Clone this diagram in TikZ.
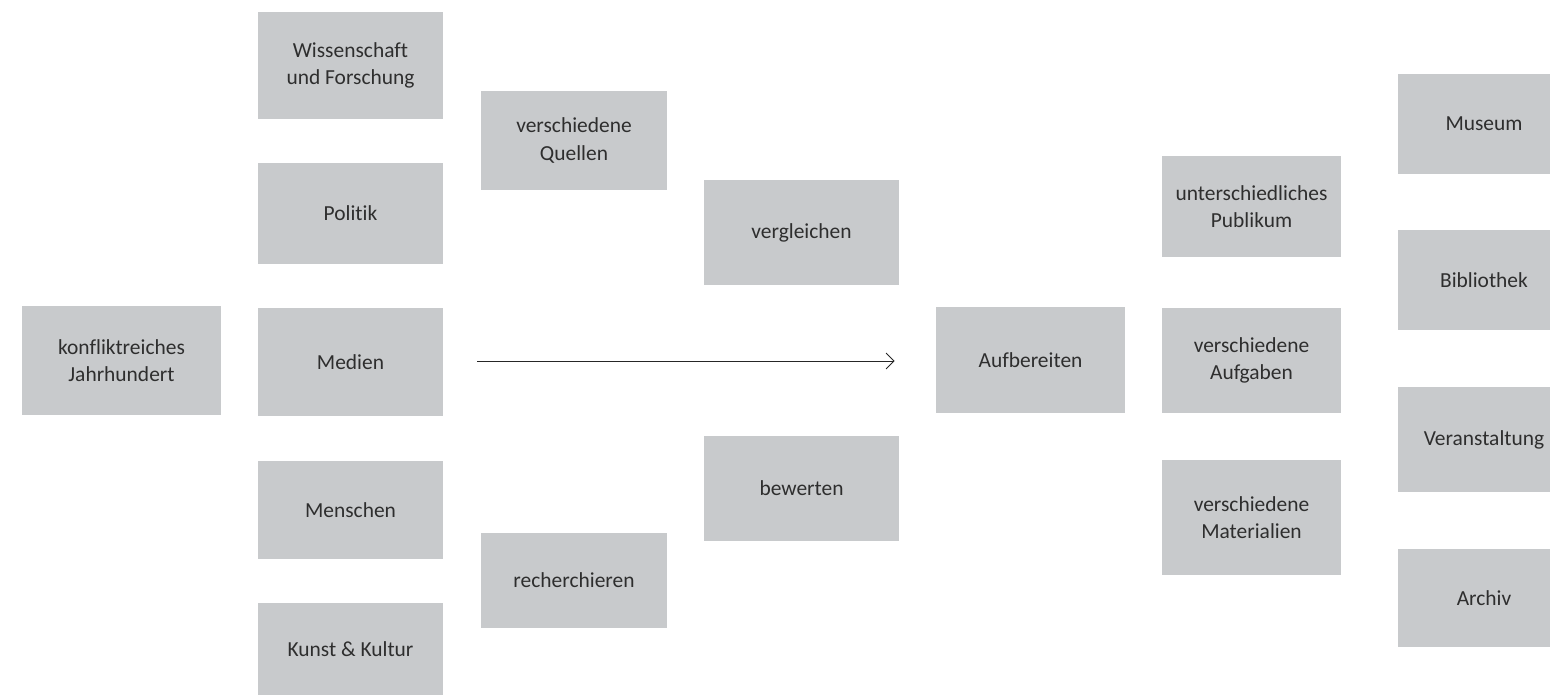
\documentclass[tikz,border=0pt]{standalone}
\usepackage{fontspec}
\setmainfont[Ligatures=NoCommon]{Carlito}
\usepackage{tikz}
\usetikzlibrary{arrows.meta}

\begin{document}
\begin{tikzpicture}[x=0.02cm,y=-0.02cm]
\definecolor{boxGray}{HTML}{C8CACC}
\definecolor{textGray}{HTML}{2E2E2E}
\tikzset{
  box/.style={rectangle, fill=boxGray, text=textGray, inner sep=0pt, align=center,
    font=\fontsize{12.2}{15.4}\selectfont},
}
\useasboundingbox (0,0) rectangle (1550,695);
% start
\node[box, minimum width=3.98cm, minimum height=2.18cm] (jahrh) at (121.5,360.5) {konfliktreiches\\Jahrhundert};
% fields
\node[box, minimum width=3.7cm, minimum height=2.14cm] (wiss) at (350.5,65.5) {Wissenschaft\\und Forschung};
\node[box, minimum width=3.7cm, minimum height=2.02cm] (politik) at (350.5,213.5) {Politik};
\node[box, minimum width=3.7cm, minimum height=2.16cm] (medien) at (350.5,362) {Medien};
\node[box, minimum width=3.7cm, minimum height=1.96cm] (menschen) at (350.5,510) {Menschen};
\node[box, minimum width=3.7cm, minimum height=1.84cm] (kunst) at (350.5,649) {Kunst \& Kultur};
% working steps
\node[box, minimum width=3.72cm, minimum height=1.98cm] (quellen) at (574,140.5) {verschiedene\\Quellen};
\node[box, minimum width=3.72cm, minimum height=1.9cm] (recherche) at (574,580.5) {recherchieren};
\node[box, minimum width=3.9cm, minimum height=2.1cm] (vergl) at (801.5,232.5) {vergleichen};
\node[box, minimum width=3.9cm, minimum height=2.1cm] (bewert) at (801.5,488.5) {bewerten};
\node[box, minimum width=3.78cm, minimum height=2.12cm] (aufb) at (1030.5,360) {Aufbereiten};
% audience
\node[box, minimum width=3.58cm, minimum height=2.02cm] (publikum) at (1251.5,206.5) {unterschiedliches\\Publikum};
\node[box, minimum width=3.58cm, minimum height=2.1cm] (aufgaben) at (1251.5,360.5) {verschiedene\\Aufgaben};
\node[box, minimum width=3.58cm, minimum height=2.3cm] (material) at (1251.5,517.5) {verschiedene\\Materialien};
% places
\node[box, minimum width=3.44cm, minimum height=2cm] (museum) at (1484,124) {Museum};
\node[box, minimum width=3.44cm, minimum height=2cm] (biblio) at (1484,280) {Bibliothek};
\node[box, minimum width=3.44cm, minimum height=2.1cm] (veranst) at (1484,439.5) {Veranstaltung};
\node[box, minimum width=3.44cm, minimum height=1.96cm] (archiv) at (1484,598) {Archiv};
\draw[-{Straight Barb[length=1.6mm,width=3.2mm,line width=0.5pt]}, line width=0.55pt, black!85,
  shorten <=0.68cm, shorten >=0.82cm] (medien.east |- 0,361) -- (aufb.west |- 0,361);
\end{tikzpicture}
\end{document}
